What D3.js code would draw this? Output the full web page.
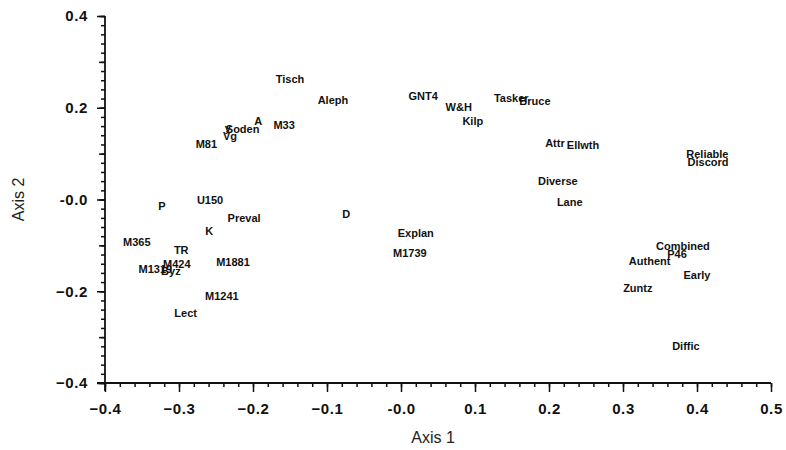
<!DOCTYPE html>
<html>
<head>
<meta charset="utf-8">
<script src="https://cdn.jsdelivr.net/npm/d3@7"></script>
<style>
  body { margin: 0; background: #fff; }
  svg { display: block; }
</style>
</head>
<body>
<svg id="chart" width="786" height="450"></svg>
<script>
// ---- data ----
const labels = ["Tisch","Aleph","GNT4","W&H","Kilp","Tasker","Bruce","Attr","Ellwth","Diverse","Lane",
  "Reliable","Discord","Combined","P46","Authent","Early","Zuntz","Diffic","D","Explan","M1739",
  "A","M33","Soden","y","Vg","M81","P","U150","Preval","K","M365","TR","M424","M1319","Byz","M1881","M1241","Lect"];
const axis1 = [-0.150,-0.092,0.030,0.078,0.097,0.149,0.181,0.208,0.246,0.212,0.228,
  0.414,0.415,0.381,0.373,0.336,0.400,0.320,0.385,-0.074,0.020,0.012,
  -0.193,-0.158,-0.214,-0.234,-0.231,-0.263,-0.323,-0.258,-0.212,-0.259,-0.357,-0.297,-0.303,-0.332,-0.311,-0.227,-0.242,-0.291];
const axis2 = [0.263,0.217,0.226,0.202,0.171,0.221,0.215,0.123,0.119,0.040,-0.005,
  0.099,0.082,-0.101,-0.119,-0.134,-0.165,-0.193,-0.319,-0.032,-0.073,-0.117,
  0.171,0.162,0.154,0.156,0.139,0.121,-0.014,-0.001,-0.040,-0.069,-0.093,-0.110,-0.141,-0.151,-0.156,-0.136,-0.210,-0.247];
const xTicks = [-0.4,-0.3,-0.2,-0.1,0,0.1,0.2,0.3,0.4,0.5];
const yTicks = [-0.4,-0.2,0,0.2,0.4];
const xTitle = "Axis 1", yTitle = "Axis 2";

// ---- layout ----
const svg = d3.select("#chart");
const x = d3.scaleLinear().domain([-0.4, 0.5]).range([105, 771]);
const y = d3.scaleLinear().domain([-0.4, 0.4]).range([383, 16]);
const fmt = v => (Math.abs(v) < 1e-9 ? "-0.0" : d3.format(".1f")(v));

const xMinor = d3.range(-40, 51, 2).map(d => d / 100);
const yMinor = d3.range(-40, 41, 2).map(d => d / 100);
const yMid = d3.range(-4, 5, 1).map(d => d / 10);

// x axis minor
svg.append("g").attr("transform", `translate(0,${y(-0.4)})`)
  .call(d3.axisBottom(x).tickValues(xMinor).tickSize(4).tickSizeOuter(0).tickFormat(""))
  .call(g => g.select(".domain").remove());
// x axis major
const gx = svg.append("g").attr("transform", `translate(0,${y(-0.4)})`)
  .call(d3.axisBottom(x).tickValues(xTicks).tickSize(9).tickSizeOuter(0).tickPadding(11).tickFormat(fmt));
gx.select(".domain").remove();
gx.selectAll("text").attr("font-family", "Liberation Sans, Arial, sans-serif")
  .attr("font-size", 15).attr("font-weight", "bold").attr("fill", "#111").attr("letter-spacing", 0.6);

// y axis minor
svg.append("g").attr("transform", `translate(${x(-0.4)},0)`)
  .call(d3.axisLeft(y).tickValues(yMinor).tickSize(4).tickSizeOuter(0).tickFormat(""))
  .call(g => g.select(".domain").remove());
svg.append("g").attr("transform", `translate(${x(-0.4)},0)`)
  .call(d3.axisLeft(y).tickValues(yMid).tickSize(6).tickSizeOuter(0).tickFormat(""))
  .call(g => g.select(".domain").remove());
const gy = svg.append("g").attr("transform", `translate(${x(-0.4)},0)`)
  .call(d3.axisLeft(y).tickValues(yTicks).tickSize(8).tickSizeOuter(0).tickPadding(9).tickFormat(fmt));
gy.select(".domain").remove();
gy.selectAll("text").attr("font-family", "Liberation Sans, Arial, sans-serif")
  .attr("font-size", 15).attr("font-weight", "bold").attr("fill", "#111").attr("letter-spacing", 0.6);

svg.selectAll(".tick line").attr("stroke", "#111").attr("stroke-width", 1.5);

// axis lines
svg.append("line").attr("x1", x(-0.4) - 8).attr("x2", x(0.5)).attr("y1", y(-0.4)).attr("y2", y(-0.4))
  .attr("stroke", "#111").attr("stroke-width", 1.8);
svg.append("line").attr("x1", x(-0.4)).attr("x2", x(-0.4)).attr("y1", y(0.4)).attr("y2", y(-0.4) + 8)
  .attr("stroke", "#111").attr("stroke-width", 1.8);

// titles
svg.append("text").attr("x", (x(-0.4) + x(0.5)) / 2 - 5).attr("y", 443)
  .attr("text-anchor", "middle").attr("font-family", "Liberation Sans, Arial, sans-serif")
  .attr("font-size", 16).attr("fill", "#222").text(xTitle);
svg.append("text").attr("transform", `translate(24,${y(0)}) rotate(-90)`)
  .attr("text-anchor", "middle").attr("font-family", "Liberation Sans, Arial, sans-serif")
  .attr("font-size", 16).attr("fill", "#222").text(yTitle);

// point labels
svg.append("g").selectAll("text").data(labels).join("text")
  .attr("x", (d, i) => x(axis1[i]))
  .attr("y", (d, i) => y(axis2[i]))
  .attr("text-anchor", "middle").attr("dominant-baseline", "central")
  .attr("font-family", "Liberation Sans, Arial, sans-serif")
  .attr("font-size", 11).attr("font-weight", "bold").attr("fill", "#111")
  .text(d => d);
</script>
</body>
</html>
